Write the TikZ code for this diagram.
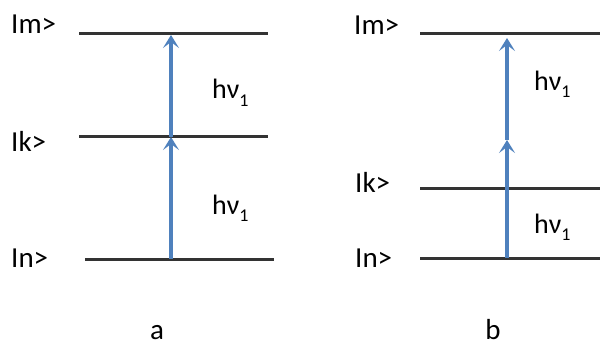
\documentclass[tikz,border=0pt]{standalone}
\usepackage{fontspec}
\setmainfont{Carlito}
\usetikzlibrary{arrows.meta,positioning}

\definecolor{levelgray}{HTML}{333333}
\definecolor{arrowblue}{HTML}{4F81BD}

\tikzstyle{level} = [line width=3pt, draw=levelgray]
\tikzstyle{statelabel} = [
    anchor=base west, inner sep=0pt,
    font=\fontsize{29}{32}\selectfont
]
\tikzstyle{photonlabel} = [
    anchor=base west, inner sep=0pt,
    font=\fontsize{28}{32}\selectfont
]
\tikzstyle{panellabel} = [
    anchor=base, inner sep=0pt,
    font=\fontsize{29}{32}\selectfont
]
\tikzstyle{excite} = [
    line width=3.2pt, draw=arrowblue,
    -{Stealth[length=13pt,width=16pt,inset=6pt]}
]

\begin{document}
\begin{tikzpicture}[x=1pt,y=-1pt]
    \useasboundingbox (0,0) rectangle (600,345);

    % panel a
    \coordinate (am1) at (79,34);  \coordinate (am2) at (268,34);
    \coordinate (ak1) at (79,136); \coordinate (ak2) at (268,136);
    \coordinate (an1) at (85,259); \coordinate (an2) at (274,259);
    \coordinate (a0) at (171,259);
    \coordinate (ak) at (171,137);
    \coordinate (am) at (171,35);

    \draw [level] (am1) -- (am2);
    \draw [level] (ak1) -- (ak2);
    \draw [level] (an1) -- (an2);

    \node (lam) [statelabel] at (11,34) {Im>};
    \node (lak) [statelabel] at (11,151) {Ik>};
    \node (lan) [statelabel] at (11,267) {In>};

    \draw [excite] (a0) -- (ak);
    \draw [excite] (ak) -- (am);

    \node (hva1) [photonlabel] at (212,99) {hν\raisebox{-0.28em}{\fontsize{18}{18}\selectfont 1}};
    \node (hva2) [photonlabel] at (212,214) {hν\raisebox{-0.28em}{\fontsize{18}{18}\selectfont 1}};
    \node (pa) [panellabel] at (157,339) {a};

    % panel b
    \coordinate (bm1) at (420,34);  \coordinate (bm2) at (600,34);
    \coordinate (bk1) at (420,188); \coordinate (bk2) at (600,188);
    \coordinate (bn1) at (420,258); \coordinate (bn2) at (600,258);
    \coordinate (b0) at (507,258);
    \coordinate (bv) at (507,140);
    \coordinate (bm) at (507,38);

    \draw [level] (bm1) -- (bm2);
    \draw [level] (bk1) -- (bk2);
    \draw [level] (bn1) -- (bn2);

    \node (lbm) [statelabel] at (354,35) {Im>};
    \node (lbk) [statelabel] at (355,192) {Ik>};
    \node (lbn) [statelabel] at (355,267) {In>};

    \draw [excite] (b0) -- (bv);
    \draw [excite] (bv) -- (bm);

    \node (hvb1) [photonlabel] at (534,90) {hν\raisebox{-0.28em}{\fontsize{18}{18}\selectfont 1}};
    \node (hvb2) [photonlabel] at (534,233) {hν\raisebox{-0.28em}{\fontsize{18}{18}\selectfont 1}};
    \node (pb) [panellabel] at (493,339) {b};
\end{tikzpicture}
\end{document}
